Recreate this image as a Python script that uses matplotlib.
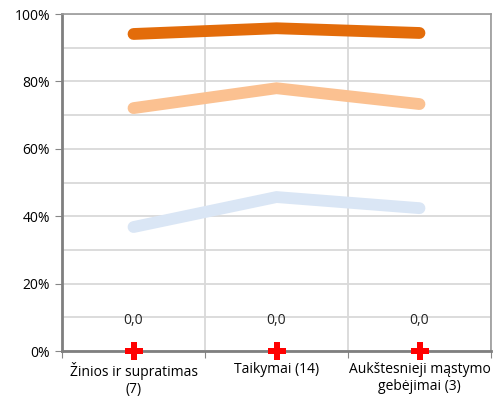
import numpy as np
import matplotlib.pyplot as plt
from matplotlib.ticker import MultipleLocator, FuncFormatter

categories = ["Žinios ir supratimas\n(7)", "Taikymai (14)", "Aukštesnieji mąstymo\ngebėjimai (3)"]
top_vals = [94.1, 95.8, 94.4]
mid_vals = [72.1, 78.0, 73.3]
low_vals = [36.8, 45.7, 42.4]
zero_vals = [0.0, 0.0, 0.0]

plt.rcParams['font.family'] = ['Open Sans', 'DejaVu Sans']
fig = plt.figure(figsize=(5.0, 4.03), dpi=100)
ax = fig.add_axes([0.124, 0.129, 0.858, 0.836])

x = np.arange(len(categories))
ax.plot(x, low_vals, color='#dae6f5', lw=8.5, solid_capstyle='round', solid_joinstyle='miter', zorder=3)
ax.plot(x, mid_vals, color='#fbc191', lw=8.5, solid_capstyle='round', solid_joinstyle='miter', zorder=3)
ax.plot(x, top_vals, color='#e36c0a', lw=8.5, solid_capstyle='round', solid_joinstyle='miter', zorder=3)
ax.plot(x, zero_vals, linestyle='none', marker='P', color='red', markersize=13,
        markeredgewidth=0, zorder=4, clip_on=False)
for xi, v in zip(x, zero_vals):
    ax.text(xi, v + 9, f"{v:.1f}".replace('.', ','), ha='center', va='center', fontsize=10, color='#222222')

ax.set_xlim(-0.5, 2.5)
ax.set_ylim(0, 100)
ax.yaxis.set_major_locator(MultipleLocator(20))
ax.yaxis.set_minor_locator(MultipleLocator(10))
ax.yaxis.set_major_formatter(FuncFormatter(lambda v, p: f"{int(v)}%"))
ax.set_xticks([-0.5, 0.5, 1.5, 2.5])
ax.set_xticklabels([])
ax.set_xticks(x, minor=True)
ax.set_xticklabels(categories, minor=True, fontsize=10)
ax.tick_params(axis='x', which='minor', length=0, pad=8)
ax.tick_params(axis='x', which='major', length=5, color='#868686', direction='out')
ax.tick_params(axis='y', which='major', length=5, color='#868686', labelsize=10)
ax.tick_params(axis='y', which='minor', length=0)

ax.grid(True, axis='y', which='both', color='#d9d9d9', lw=1.3)
ax.grid(True, axis='x', which='major', color='#d9d9d9', lw=1.3)
ax.set_axisbelow(True)
for s in ['left', 'bottom']:
    ax.spines[s].set_color('#7f7f7f')
    ax.spines[s].set_linewidth(2.0)
for s in ['top', 'right']:
    ax.spines[s].set_color('#9a9a9a')
    ax.spines[s].set_linewidth(1.2)

fig.savefig('out.png', dpi=100)
